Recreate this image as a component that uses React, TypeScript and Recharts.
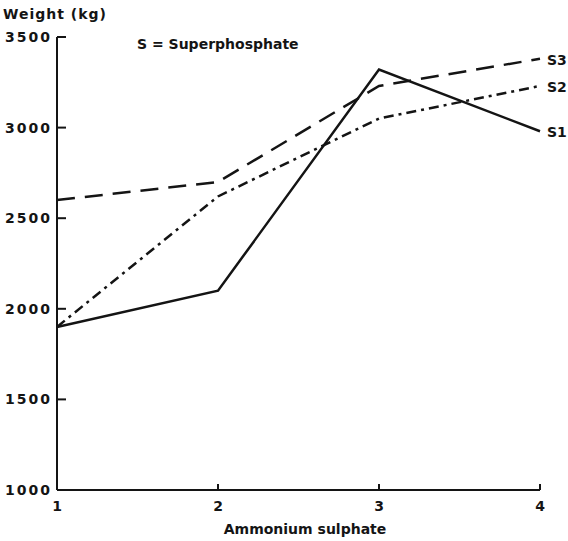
// Ammonium sulphate vs. weight, three superphosphate levels
import React from "react";
import { LineChart, Line, XAxis, YAxis, LabelList } from "recharts";

const ammonium = [1, 2, 3, 4];
const s1 = [1900, 2100, 3320, 2980];
const s2 = [1900, 2620, 3050, 3230];
const s3 = [2600, 2700, 3230, 3380];
const yTicks = [1000, 1500, 2000, 2500, 3000, 3500];
const seriesNames = ["S1", "S2", "S3"];

const data = ammonium.map((a, i) => ({ x: a, S1: s1[i], S2: s2[i], S3: s3[i] }));

const ink = "#141414";
const font = "'DejaVu Sans', sans-serif";

const XTick = (props: any) => {
  const { x, y, payload } = props;
  return (
    <g>
      {payload.value !== 1 && (
        <line x1={x} y1={y} x2={x} y2={y - 6} stroke={ink} strokeWidth={2} />
      )}
      <text
        x={x}
        y={y + 21}
        textAnchor="middle"
        fontFamily={font}
        fontWeight="bold"
        fontSize={14}
        fill={ink}
      >
        {payload.value}
      </text>
    </g>
  );
};

const YTick = (props: any) => {
  const { x, y, payload } = props;
  return (
    <g>
      <line x1={x} y1={y} x2={x + 9} y2={y} stroke={ink} strokeWidth={2} />
      <text
        x={x - 5}
        y={y + 5}
        textAnchor="end"
        fontFamily={font}
        fontWeight="bold"
        fontSize={14}
        letterSpacing={2}
        fill={ink}
      >
        {payload.value}
      </text>
    </g>
  );
};

const endLabel = (name: string) => (props: any) => {
  const { x, y, index } = props;
  if (index !== ammonium.length - 1) return null;
  return (
    <text
      x={x + 7}
      y={y + 6}
      fontFamily={font}
      fontWeight="bold"
      fontSize={14}
      fill={ink}
    >
      {name}
    </text>
  );
};

export default function App() {
  return (
    <div style={{ position: "relative", width: 568, height: 541, background: "#fff" }}>
      <style>{"body{margin:0}"}</style>
      <LineChart
        width={568}
        height={541}
        data={data}
        margin={{ top: 37, right: 28, left: 0, bottom: 0 }}
      >
        <XAxis
          dataKey="x"
          type="number"
          domain={[1, 4]}
          ticks={ammonium}
          axisLine={{ stroke: ink, strokeWidth: 2 }}
          tickLine={false}
          tickSize={0}
          tickMargin={0}
          tick={<XTick />}
          height={51}
        />
        <YAxis
          type="number"
          domain={[1000, 3500]}
          ticks={yTicks}
          axisLine={{ stroke: ink, strokeWidth: 2 }}
          tickLine={false}
          tickSize={0}
          tickMargin={0}
          tick={<YTick />}
          width={57}
        />
        <Line
          dataKey="S1"
          stroke={ink}
          strokeWidth={2.5}
          dot={false}
          isAnimationActive={false}
        >
          <LabelList dataKey="S1" content={endLabel(seriesNames[0])} />
        </Line>
        <Line
          dataKey="S2"
          stroke={ink}
          strokeWidth={2.5}
          strokeDasharray="10 5 3 5"
          dot={false}
          isAnimationActive={false}
        >
          <LabelList dataKey="S2" content={endLabel(seriesNames[1])} />
        </Line>
        <Line
          dataKey="S3"
          stroke={ink}
          strokeWidth={2.5}
          strokeDasharray="18 10"
          dot={false}
          isAnimationActive={false}
        >
          <LabelList dataKey="S3" content={endLabel(seriesNames[2])} />
        </Line>
        <text
          x={3}
          y={19}
          fontFamily={font}
          fontWeight="bold"
          fontSize={14}
          letterSpacing={1}
          fill={ink}
        >
          Weight (kg)
        </text>
        <text x={137} y={49} fontFamily={font} fontWeight="bold" fontSize={14} fill={ink}>
          S = Superphosphate
        </text>
        <text
          x={305}
          y={534}
          textAnchor="middle"
          fontFamily={font}
          fontWeight="bold"
          fontSize={14}
          fill={ink}
        >
          Ammonium sulphate
        </text>
      </LineChart>
    </div>
  );
}
